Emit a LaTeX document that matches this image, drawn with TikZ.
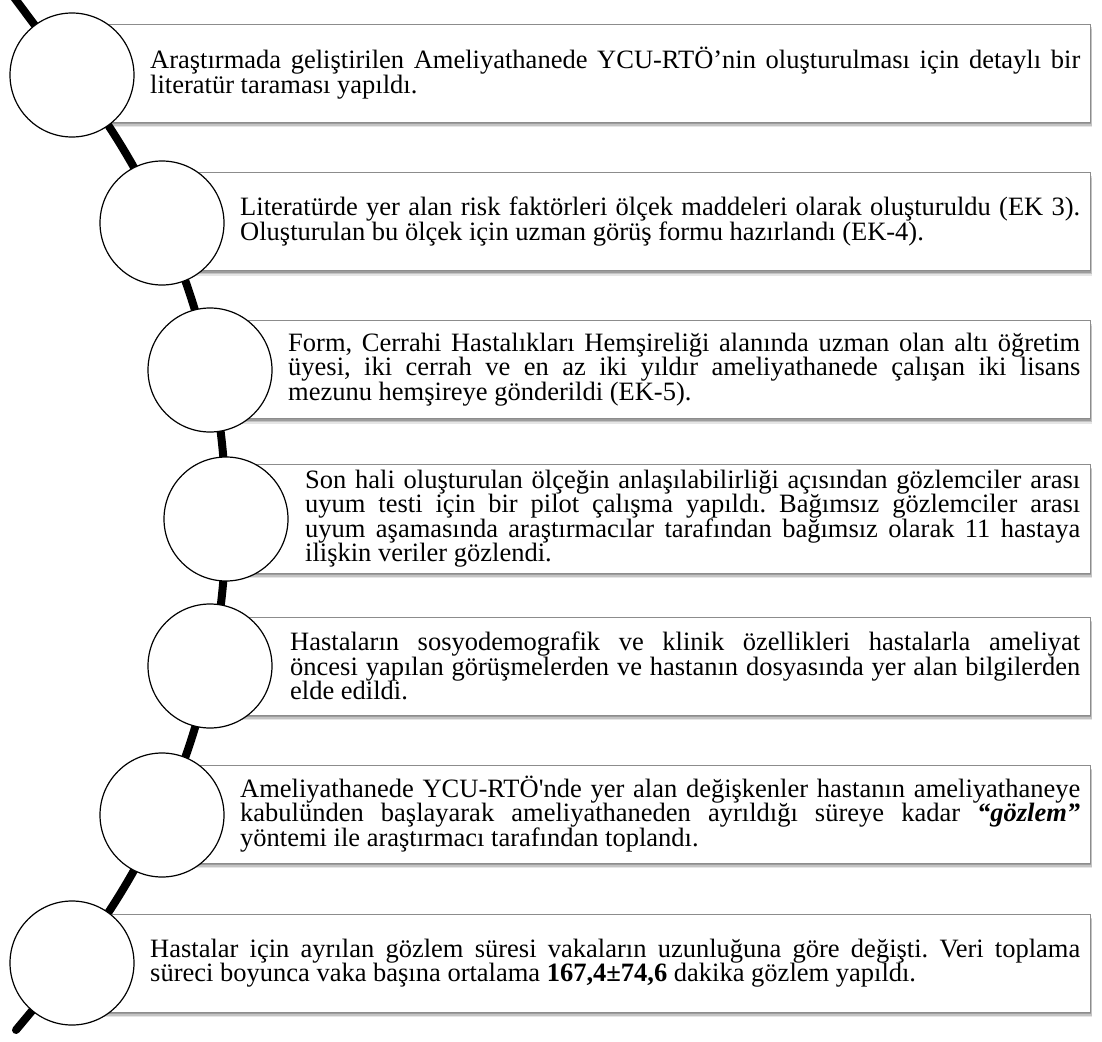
\documentclass[tikz,border=0pt]{standalone}
\usepackage{fontspec}
\setmainfont{Liberation Serif}
\usetikzlibrary{shadows}
\frenchspacing
\newcommand\straightq{{\XeTeXglyph\XeTeXcharglyph"27\relax}}
\begin{document}
\begin{tikzpicture}[x=1pt,y=-1pt,
  spine/.style={line width=8pt, line cap=round},
  stepbox/.style={draw=black!45, line width=0.9pt, fill=white, inner sep=0pt, minimum height=98pt,
    drop shadow={shadow xshift=2pt,shadow yshift=-5pt,opacity=.10,fill=black},
    drop shadow={shadow xshift=1.5pt,shadow yshift=-3.5pt,opacity=.15,fill=black},
    drop shadow={shadow xshift=1pt,shadow yshift=-2pt,opacity=.2,fill=black}},
  dot/.style={circle, draw=black, line width=1.2pt, fill=white, minimum size=124pt, inner sep=0pt},
  txt/.style={anchor=west, inner sep=0pt, align=justify, font=\fontsize{26.5}{24.5}\selectfont}
]
\useasboundingbox (0,0) rectangle (1102,1041);

% circle positions (used by the spine)
\coordinate (p1) at (72,75);
\coordinate (p7) at (72,963);
\coordinate (top) at (10,-8);
\coordinate (bot) at (16,1030);
\draw[spine] (top) -- (p1) arc[start angle=-38.26, end angle=38.26, radius=717] -- (bot);

% boxes
\node[stepbox, minimum width=1018pt] (b1) at (581,73) {};
\node[stepbox, minimum width=928pt]  (b2) at (626,221.5) {};
\node[stepbox, minimum width=880pt]  (b3) at (650,369.5) {};
\node[stepbox, minimum width=864pt, minimum height=109pt] (b4) at (658,518.5) {};
\node[stepbox, minimum width=880pt]  (b5) at (650,666) {};
\node[stepbox, minimum width=928pt]  (b6) at (626,814) {};
\node[stepbox, minimum width=1018pt] (b7) at (581,963) {};

% circles
\node[dot] (c1) at (p1) {};
\node[dot] (c2) at (162,223) {};
\node[dot] (c3) at (210,370) {};
\node[dot] (c4) at (226,519) {};
\node[dot] (c5) at (210,666) {};
\node[dot] (c6) at (162,815) {};
\node[dot] (c7) at (p7) {};

% texts
\node[txt, text width=930pt] (t1) at (150,73) {Araştırmada geliştirilen Ameliyathanede YCU-RTÖ’nin oluşturulması için detaylı bir\linebreak literatür taraması yapıldı.};
\node[txt, text width=840pt] (t2) at (240,221.5) {Literatürde yer alan risk faktörleri ölçek maddeleri olarak oluşturuldu (EK 3).\linebreak Oluşturulan bu ölçek için uzman görüş formu hazırlandı (EK-4).};
\node[txt, text width=792pt] (t3) at (288,369.5) {Form, Cerrahi Hastalıkları Hemşireliği alanında uzman olan altı öğretim\linebreak üyesi, iki cerrah ve en az iki yıldır ameliyathanede çalışan iki lisans\linebreak mezunu hemşireye gönderildi (EK-5).};
\node[txt, text width=775pt] (t4) at (305,518.5) {Son hali oluşturulan ölçeğin anlaşılabilirliği açısından gözlemciler arası\linebreak uyum testi için bir pilot çalışma yapıldı. Bağımsız gözlemciler arası\linebreak uyum aşamasında araştırmacılar tarafından bağımsız olarak 11 hastaya\linebreak ilişkin veriler gözlendi.};
\node[txt, text width=790pt] (t5) at (290,666) {Hastaların sosyodemografik ve klinik özellikleri hastalarla ameliyat\linebreak öncesi yapılan görüşmelerden ve hastanın dosyasında yer alan bilgilerden\linebreak elde edildi.};
\node[txt, text width=840pt] (t6) at (240,814) {Ameliyathanede YCU-RTÖ\straightq nde yer alan değişkenler hastanın ameliyathaneye\linebreak kabulünden başlayarak ameliyathaneden ayrıldığı süreye kadar \textbf{\textit{“gözlem”}}\linebreak yöntemi ile araştırmacı tarafından toplandı.};
\node[txt, text width=930pt] (t7) at (150,963) {Hastalar için ayrılan gözlem süresi vakaların uzunluğuna göre değişti. Veri toplama\linebreak süreci boyunca vaka başına ortalama \textbf{167,4±74,6} dakika gözlem yapıldı.};
\end{tikzpicture}
\end{document}
